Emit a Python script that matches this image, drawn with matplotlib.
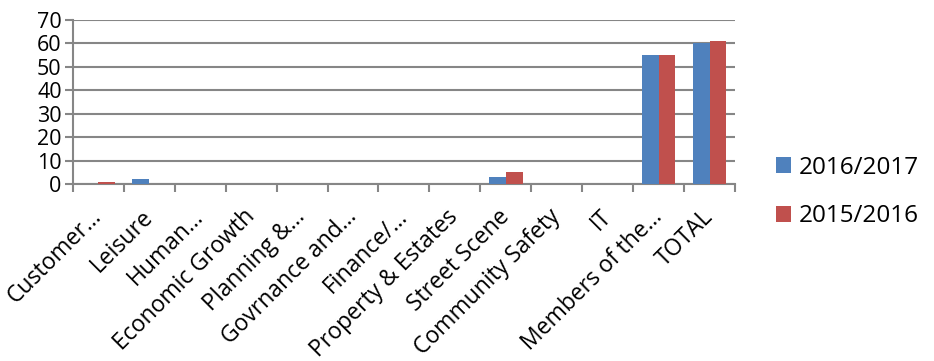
import numpy as np
import matplotlib.pyplot as plt

CATEGORIES = ['Customer…', 'Leisure', 'Human…', 'Economic Growth', 'Planning &…',
              'Govrnance and…', 'Finance/…', 'Property & Estates', 'Street Scene',
              'Community Safety', 'IT', 'Members of the…', 'TOTAL']
V2016 = [0, 2, 0, 0, 0, 0, 0, 0, 3, 0, 0, 55, 60]
V2015 = [1, 0, 0, 0, 0, 0, 0, 0, 5, 0, 0, 55, 61]

plt.rcParams['font.family'] = ['Open Sans', 'DejaVu Sans']
GRID = '#868686'

fig = plt.figure(figsize=(9.34, 3.61), dpi=100)
ax = fig.add_axes([0.078, 0.49, 0.709, 0.455])

x = np.arange(len(CATEGORIES))
w = 0.33
ax.bar(x - w/2, V2016, w, color='#4F81BD', label='2016/2017', zorder=3)
ax.bar(x + w/2, V2015, w, color='#C0504D', label='2015/2016', zorder=3)

ax.set_xlim(-0.5, len(CATEGORIES) - 0.5)
ax.set_ylim(0, 70)
ax.set_yticks(range(0, 71, 10))
ax.yaxis.grid(True, color=GRID, linewidth=1.5, zorder=0)

ax.set_xticks(x)
ax.set_xticklabels(CATEGORIES, rotation=45, ha='right', va='center',
                   rotation_mode='anchor', fontsize=16.5)
ax.tick_params(axis='x', length=0, pad=21)
ax.set_xticks(np.arange(-0.5, len(CATEGORIES), 1), minor=True)
ax.tick_params(axis='x', which='minor', length=6, color=GRID, width=1.5)
ax.tick_params(axis='y', length=6, color=GRID, width=1.5, labelsize=15.5, pad=2)

for s in ['top', 'right']:
    ax.spines[s].set_visible(False)
for s in ['left', 'bottom']:
    ax.spines[s].set_color(GRID)
    ax.spines[s].set_linewidth(1.5)

fig.legend(loc='center left', bbox_to_anchor=(0.807, 0.468), frameon=False,
           fontsize=17.5, handlelength=0.65, handleheight=0.65, labelspacing=1.0,
           handletextpad=0.3)

fig.savefig('out.png', dpi=100)
